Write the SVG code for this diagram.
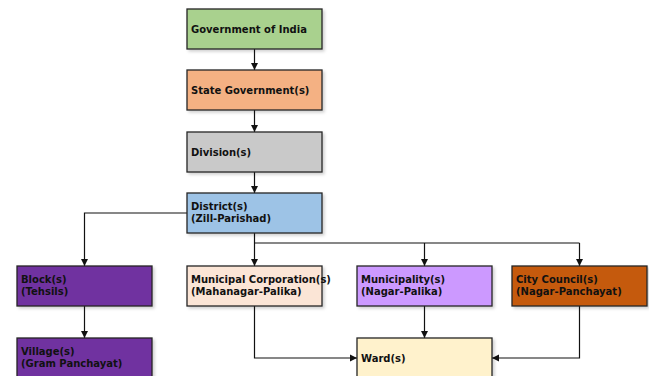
<svg xmlns="http://www.w3.org/2000/svg" width="649" height="376" viewBox="0 0 649 376">
<style>
.box{stroke:#262626;stroke-width:1.3;filter:url(#sh)}
.t{font-family:"DejaVu Sans",sans-serif;font-weight:bold;font-size:10px;fill:#111}
.c{fill:none;stroke:#111;stroke-width:1.2;marker-end:url(#ah)}
.n{fill:none;stroke:#111;stroke-width:1.2}
</style>
<defs>
<filter id="sh" x="-10%" y="-10%" width="130%" height="140%">
<feDropShadow dx="2" dy="2" stdDeviation="1.5" flood-color="#000" flood-opacity="0.18"/>
</filter>
<marker id="ah" markerWidth="8" markerHeight="8" refX="7" refY="4" orient="auto" markerUnits="userSpaceOnUse">
<path d="M0,0.5 L7,4 L0,7.5 Z" fill="#111"/>
</marker>
</defs>
<g id="connectors">
<path class="c" d="M254.5,49 V70"/>
<path class="c" d="M254.5,110 V132"/>
<path class="c" d="M254.5,172 V193"/>
<path class="c" d="M187,213 H84.5 V266"/>
<path class="c" d="M254.5,233 V266"/>
<path class="n" d="M254.5,243 H579.5"/>
<path class="c" d="M424.5,243 V266"/>
<path class="c" d="M579.5,243 V266"/>
<path class="c" d="M84.5,306 V338"/>
<path class="c" d="M424.5,306 V338"/>
<path class="c" d="M254.5,306 V358 H357"/>
<path class="c" d="M579.5,306 V358 H492"/>
</g>
<g id="gov-india"><rect class="box" x="187" y="9" width="135" height="40" fill="#a9d18e"/><text class="t" x="191" y="33">Government of India</text></g>
<g id="state-gov"><rect class="box" x="187" y="70" width="135" height="40" fill="#f4b183"/><text class="t" x="191" y="94">State Government(s)</text></g>
<g id="division"><rect class="box" x="187" y="132" width="135" height="40" fill="#c9c9c9"/><text class="t" x="191" y="156">Division(s)</text></g>
<g id="district"><rect class="box" x="187" y="193" width="135" height="40" fill="#9dc3e6"/><text class="t" x="191" y="210">District(s)</text><text class="t" x="191" y="222">(Zill-Parishad)</text></g>
<g id="block"><rect class="box" x="17" y="266" width="135" height="40" fill="#7030a0"/><text class="t" x="21" y="283">Block(s)</text><text class="t" x="21" y="295">(Tehsils)</text></g>
<g id="municipal-corp"><rect class="box" x="187" y="266" width="135" height="40" fill="#fbe5d6"/><text class="t" x="191" y="283">Municipal Corporation(s)</text><text class="t" x="191" y="295">(Mahanagar-Palika)</text></g>
<g id="municipality"><rect class="box" x="357" y="266" width="135" height="40" fill="#cc99ff"/><text class="t" x="361" y="283">Municipality(s)</text><text class="t" x="361" y="295">(Nagar-Palika)</text></g>
<g id="city-council"><rect class="box" x="512" y="266" width="135" height="40" fill="#c55a11"/><text class="t" x="516" y="283">City Council(s)</text><text class="t" x="516" y="295">(Nagar-Panchayat)</text></g>
<g id="village"><rect class="box" x="17" y="338" width="135" height="40" fill="#7030a0"/><text class="t" x="21" y="355">Village(s)</text><text class="t" x="21" y="367">(Gram Panchayat)</text></g>
<g id="ward"><rect class="box" x="357" y="338" width="135" height="40" fill="#fff2cc"/><text class="t" x="361" y="362">Ward(s)</text></g>
</svg>
